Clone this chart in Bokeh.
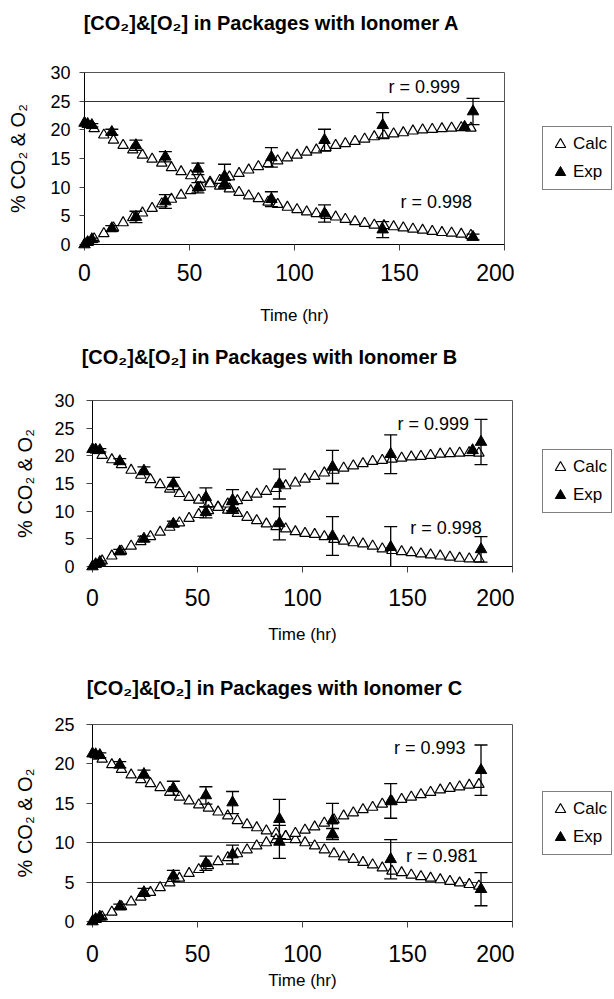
import math
from bokeh.plotting import figure
from bokeh.models import (Range1d, FixedTicker, Whisker, TeeHead, ColumnDataSource,
                          Legend, LegendItem, Label)
from bokeh.layouts import column, row
from bokeh.embed import file_html
from bokeh.resources import INLINE

FONT = "Liberation Sans"

# ---------------- data ----------------
x_ticks = [0, 50, 100, 150, 200]
y_ticks_ab = [0, 5, 10, 15, 20, 25, 30]
y_ticks_c = [0, 5, 10, 15, 20, 25]

titles = ["[CO₂]&[O₂] in Packages with Ionomer A",
          "[CO₂]&[O₂] in Packages with Ionomer B",
          "[CO₂]&[O₂] in Packages with Ionomer C"]
x_label = "Time (hr)"
y_label = "% CO₂ & O₂"
legend_labels = ["Calc", "Exp"]
r_labels = [["r = 0.999", "r = 0.998"], ["r = 0.999", "r = 0.998"], ["r = 0.993", "r = 0.981"]]

calc_t = [0, 4.6, 9.2, 13.8, 18.4, 23, 27.6, 32.2, 36.8, 41.4, 46, 50.6, 55.2, 59.8,
          64.4, 69, 73.6, 78.2, 82.8, 87.4, 92, 96.6, 101.2, 105.8, 110.4, 115, 119.6,
          124.2, 128.8, 133.4, 138, 142.6, 147.2, 151.8, 156.4, 161, 165.6, 170.2,
          174.8, 179.4, 184]

a_calc_o2 = [21.0, 20.2, 19.1, 18.2, 17.3, 16.5, 15.6, 14.9, 14.2, 13.4, 12.7, 12.0,
             11.4, 10.9, 10.2, 9.7, 9.1, 8.5, 8.0, 7.4, 7.0, 6.5, 6.1, 5.7, 5.4, 5.1,
             4.8, 4.4, 4.0, 3.7, 3.4, 3.3, 3.1, 2.9, 2.7, 2.5, 2.3, 2.1, 2.0, 1.8, 1.6]
a_calc_co2 = [0, 1.0, 1.9, 2.9, 3.8, 4.7, 5.5, 6.3, 7.1, 7.9, 8.6, 9.4, 10.0, 10.6,
              11.2, 11.8, 12.4, 13.0, 13.6, 14.1, 14.6, 15.1, 15.6, 16.1, 16.5, 16.9,
              17.3, 17.6, 18.0, 18.4, 18.8, 19.0, 19.3, 19.5, 19.8, 20.0, 20.1, 20.2,
              20.3, 20.4, 20.3]
b_calc_o2 = [21.0, 20.1, 19.3, 18.4, 17.4, 16.5, 15.7, 14.8, 14.0, 13.2, 12.5, 12.0,
             11.3, 10.8, 10.2, 9.6, 8.9, 8.3, 7.7, 7.2, 6.8, 6.3, 6.0, 5.8, 5.4, 4.9,
             4.6, 4.3, 4.1, 3.7, 3.2, 2.9, 2.7, 2.5, 2.3, 2.1, 1.9, 1.7, 1.5, 1.4, 1.4]
b_calc_co2 = [0, 1.0, 1.9, 2.8, 3.7, 4.5, 5.4, 6.2, 7.1, 7.9, 8.7, 9.4, 10.1, 10.7,
              11.3, 11.9, 12.5, 13.1, 13.6, 14.1, 14.6, 15.1, 15.8, 16.3, 16.9, 17.4,
              17.8, 18.2, 18.6, 19.0, 19.2, 19.4, 19.6, 19.8, 19.9, 20.1, 20.3, 20.4,
              20.5, 20.6, 20.5]
c_calc_o2 = [21.0, 20.6, 19.9, 19.3, 18.6, 18.0, 17.5, 17.0, 16.4, 15.8, 15.3, 14.8,
             14.4, 13.9, 13.4, 12.8, 12.3, 11.9, 11.5, 11.2, 10.8, 10.4, 10.0, 9.6, 9.1,
             8.6, 8.2, 7.9, 7.5, 7.2, 6.8, 6.4, 6.2, 5.9, 5.7, 5.5, 5.3, 5.1, 4.9, 4.7, 4.5]
c_calc_co2 = [0, 0.6, 1.2, 1.9, 2.5, 3.1, 3.7, 4.3, 4.9, 5.5, 6.1, 6.6, 7.1, 7.6, 8.1,
              8.6, 9.1, 9.6, 10.0, 10.4, 10.8, 11.2, 11.6, 12.0, 12.5, 12.9, 13.4, 13.8,
              14.2, 14.5, 14.9, 15.2, 15.5, 15.8, 16.1, 16.4, 16.7, 16.9, 17.1, 17.3, 17.4]

exp_t = [0, 1.5, 3.5, 13, 24.5, 38.5, 54, 66.7, 89, 114.3, 142, 185]
exp_t_co2_ab = [0, 1.5, 3.5, 13, 24.5, 38.5, 54, 66.7, 89, 114.3, 142, 181, 185]

a_exp_o2 = [21.2, 21.0, 20.8, 19.6, 17.3, 15.3, 13.2, 10.6, 7.9, 5.4, 2.6, 1.3]
a_err_o2 = [0.3, 0.3, 0.3, 0.5, 0.9, 0.9, 1.0, 0.6, 1.3, 1.5, 1.4, 0.5]
a_exp_co2 = [0, 0.4, 0.9, 2.8, 4.8, 7.5, 9.9, 11.9, 15.2, 18.2, 20.8, 20.5, 23.2]
a_err_co2 = [0.1, 0.2, 0.2, 0.5, 1.0, 1.2, 0.9, 2.1, 1.7, 1.9, 2.2, 0, 2.3]

b_exp_o2 = [21.2, 21.1, 21.0, 19.0, 17.3, 15.0, 12.5, 10.4, 7.8, 5.5, 3.5, 3.1]
b_err_o2 = [0.3, 0.3, 0.3, 0.5, 0.7, 1.1, 1.7, 0.8, 3.0, 3.5, 3.7, 2.3]
b_exp_co2 = [0, 0.4, 0.8, 2.7, 5.0, 7.7, 9.8, 12.0, 14.9, 18.0, 20.3, 21.0, 22.5]
b_err_co2 = [0.1, 0.2, 0.2, 0.4, 0.5, 0.5, 1.0, 1.9, 2.7, 3.0, 3.5, 0, 4.1]

c_exp_o2 = [21.3, 21.2, 21.1, 19.9, 18.7, 16.9, 16.0, 15.1, 13.0, 11.1, 7.9, 4.1]
c_err_o2 = [0.3, 0.3, 0.3, 0.4, 0.5, 0.9, 1.1, 1.4, 2.5, 0.7, 2.5, 2.1]
c_exp_co2 = [0, 0.3, 0.6, 1.9, 3.7, 5.8, 7.4, 8.5, 10.1, 12.8, 15.3, 19.2]
c_err_co2 = [0.1, 0.2, 0.2, 0.3, 0.5, 0.7, 0.9, 1.2, 2.1, 2.2, 2.2, 3.2]

# ---------------- layout ----------------
W = 612
MAIN_W = 514
LEG_W = W - MAIN_W
specs = [
    dict(title_h=50, title_xy=(271, 28), h=282, top=22, bottom=88, left=84,
         ymax=30, yt=y_ticks_ab, grid=[25], calc=(a_calc_o2, a_calc_co2),
         exp=((exp_t, a_exp_o2, a_err_o2), (exp_t_co2_ab, a_exp_co2, a_err_co2)),
         xl_stand=22, yl_stand=18, r_pos=[(161.8, 27.5), (167.5, 7.4)],
         ytick_out=5, ystand=9, xstand=13, leg=(28, 54)),
    dict(title_h=48, title_xy=(269, 24), h=280, top=20, bottom=94, left=92,
         ymax=30, yt=y_ticks_ab, grid=[], calc=(b_calc_o2, b_calc_co2),
         exp=((exp_t, b_exp_o2, b_err_o2), (exp_t_co2_ab, b_exp_co2, b_err_co2)),
         xl_stand=16, yl_stand=15, r_pos=[(162.3, 25.8), (168.3, 7.0)],
         ytick_out=6, ystand=12, xstand=16, leg=(28, 53)),
    dict(title_h=45, title_xy=(274, 18), h=292, top=19, bottom=76, left=92,
         ymax=25, yt=y_ticks_c, grid=[5, 10], calc=(c_calc_o2, c_calc_co2),
         exp=((exp_t, c_exp_o2, c_err_o2), (exp_t, c_exp_co2, c_err_co2)),
         xl_stand=6, yl_stand=15, r_pos=[(160.6, 22.0), (166.3, 8.3)],
         ytick_out=6, ystand=12, xstand=17, leg=(28, 66)),
]


def blank_fig(width, height, xr, yr):
    f = figure(width=width, height=height, output_backend="svg", toolbar_location=None,
               x_range=Range1d(*xr), y_range=Range1d(*yr),
               x_axis_type=None, y_axis_type=None, min_border=0)
    f.outline_line_color = None
    f.background_fill_color = "white"
    f.border_fill_color = "white"
    return f


def build(i, s):
    # title strip
    tf = blank_fig(W, s["title_h"], (0, W), (0, s["title_h"]))
    tx, ty = s["title_xy"]
    tf.add_layout(Label(x=tx, y=ty, text=titles[i], text_align="center",
                        text_baseline="middle", text_font=FONT, text_font_size="20px",
                        text_font_style="bold", text_color="black"))

    p = figure(width=MAIN_W, height=s["h"], output_backend="svg", toolbar_location=None,
               x_range=Range1d(0, 200), y_range=Range1d(0, s["ymax"]),
               min_border_left=s["left"], min_border_right=MAIN_W - s["left"] - 420,
               min_border_top=s["top"], min_border_bottom=s["bottom"])
    p.background_fill_color = "white"
    p.border_fill_color = "white"
    p.outline_line_color = "#555555"
    p.outline_line_width = 1

    # axes
    p.xaxis.ticker = FixedTicker(ticks=x_ticks)
    p.yaxis.ticker = FixedTicker(ticks=s["yt"])
    for ax in (p.xaxis[0], p.yaxis[0]):
        ax.axis_line_color = "black"
        ax.axis_line_width = 1
        ax.major_tick_line_color = "#444444"
        ax.major_tick_in = 0
        ax.minor_tick_out = 0
        ax.minor_tick_in = 0
        ax.major_label_text_font = FONT
        ax.major_label_text_color = "black"
        ax.axis_label_text_font = FONT
        ax.axis_label_text_font_style = "normal"
        ax.axis_label_text_color = "black"
    p.xaxis.axis_label = x_label
    p.xaxis.axis_label_text_font_size = "17px"
    p.xaxis.axis_label_standoff = s["xl_stand"]
    p.yaxis.axis_label = y_label
    p.yaxis.axis_label_text_font_size = "20px"
    p.yaxis.axis_label_standoff = s["yl_stand"]
    p.xaxis.major_label_text_font_size = "23px"
    p.xaxis.major_tick_out = 6
    p.xaxis.major_label_standoff = s["xstand"]
    p.yaxis.major_label_text_font_size = "18px"
    p.yaxis.major_tick_out = s["ytick_out"]
    p.yaxis.major_label_standoff = s["ystand"]

    p.xgrid.visible = False
    if s["grid"]:
        p.ygrid.ticker = FixedTicker(ticks=s["grid"])
        p.ygrid.grid_line_color = "#333333"
        p.ygrid.grid_line_width = 1
    else:
        p.ygrid.visible = False

    calc_style = dict(marker="triangle", size=10.5, fill_color="white",
                      line_color="black", line_width=1.2)
    exp_style = dict(marker="triangle", size=11.5, fill_color="black",
                     line_color="black", line_width=1)

    # calculated series (open triangles)
    for yv in s["calc"]:
        p.scatter(calc_t, yv, **calc_style)

    # error bars
    for (tt, yy, ee) in s["exp"]:
        bx = [t for t, e in zip(tt, ee) if e > 0]
        up = [y + e for y, e in zip(yy, ee) if e > 0]
        lo = [y - e for y, e in zip(yy, ee) if e > 0]
        src = ColumnDataSource(dict(x=bx, upper=up, lower=lo))
        wk = Whisker(source=src, base="x", upper="upper", lower="lower", dimension="height",
                     line_color="black", line_width=1.3, level="glyph",
                     upper_head=TeeHead(size=13, line_color="black", line_width=1.3),
                     lower_head=TeeHead(size=13, line_color="black", line_width=1.3))
        p.add_layout(wk)

    # measured series (filled triangles)
    for (tt, yy, ee) in s["exp"]:
        p.scatter(tt, yy, level="overlay", **exp_style)

    # r labels
    for txt, (x, y) in zip(r_labels[i], s["r_pos"]):
        p.add_layout(Label(x=x, y=y, text=txt, text_align="center", text_baseline="middle",
                           text_font=FONT, text_font_size="18px", text_color="black"))

    # legend strip at the right (swatch renderers sit outside its visible range)
    lf = blank_fig(LEG_W, s["h"], (0, 1), (0, 1))
    rc = lf.scatter([5], [5], **calc_style)
    re_ = lf.scatter([5], [5], **exp_style)
    legend = Legend(items=[LegendItem(label=legend_labels[0], renderers=[rc]),
                           LegendItem(label=legend_labels[1], renderers=[re_])],
                    location=s["leg"], orientation="vertical",
                    label_text_font=FONT, label_text_font_size="17px",
                    label_text_color="black",
                    border_line_color="black", border_line_width=1,
                    background_fill_color="white", background_fill_alpha=1,
                    padding=4, spacing=2, margin=0, glyph_width=26, glyph_height=26,
                    label_standoff=0)
    lf.add_layout(legend)
    return [tf, row(p, lf, spacing=0)]


items = []
for i, s in enumerate(specs):
    items.extend(build(i, s))
layout = column(*items, spacing=0)

open("out.html", "w").write(file_html(layout, INLINE))
